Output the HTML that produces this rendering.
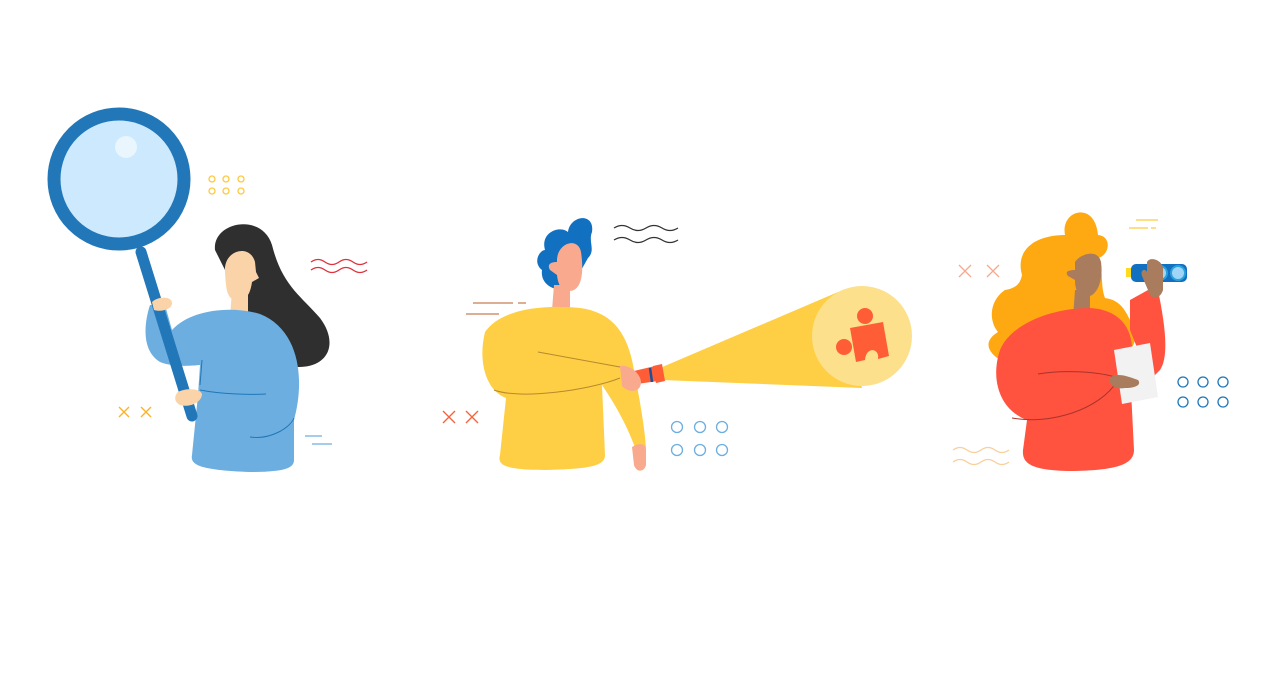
<!DOCTYPE html>
<html><head><meta charset="utf-8"><style>html,body{margin:0;padding:0;background:#fff}svg{display:block}</style></head>
<body>
<svg width="1277" height="687" viewBox="0 0 1277 687" xmlns="http://www.w3.org/2000/svg">
<rect width="1277" height="687" fill="#fff"/>
<!-- Figure 1 -->
<g fill="none" stroke="#fdc93f" stroke-width="1.3">
<circle cx="212" cy="179" r="3"/><circle cx="226" cy="179" r="3"/><circle cx="241" cy="179" r="3"/>
<circle cx="212" cy="191" r="3"/><circle cx="226" cy="191" r="3"/><circle cx="241" cy="191" r="3"/>
</g>
<path d="M311 262 q7 -5 14 0 t14 0 t14 0 t14 0 M311 270 q7 -5 14 0 t14 0 t14 0 t14 0" stroke="#e0313e" stroke-width="1.3" fill="none"/>
<path d="M119 407 l10 10 M129 407 l-10 10 M141 407 l10 10 M151 407 l-10 10" stroke="#fbb32a" stroke-width="1.4"/>
<path d="M305 436 h17 M312 444 h20" stroke="#6daee0" stroke-width="1.3"/>
<path d="M215 250 C212 222 262 212 272 245 C282 285 300 295 320 318 C338 342 330 366 300 367 L250 367 L240 300 Z" fill="#2f2f2f"/>
<path d="M232 290 L248 290 L248 318 L230 318 Z" fill="#fbd3a9"/>
<path d="M225 272 C223 250 250 243 255 262 L256 272 L259 278 L252 282 C250 296 245 302 235 300 C227 298 226 290 225 272 Z" fill="#fbd3a9"/>
<path d="M150 305 C145 320 140 350 160 362 C172 367 190 366 200 365 L198 395 L192 455 C190 465 200 470 250 472 C285 472 294 468 294 460 L294 420 C305 380 300 330 260 314 C230 305 190 310 172 330 L165 305 Z" fill="#6daee0"/>
<path d="M202 360 L200 385 M200 390 C220 394 250 395 266 394 M250 437 C270 440 290 428 294 418" stroke="#2177b8" stroke-width="1" fill="none"/>
<circle cx="119" cy="179" r="65" fill="#cce9fd" stroke="#2177b8" stroke-width="13"/>
<circle cx="126" cy="147" r="11" fill="#eaf6fe"/>
<line x1="141" y1="252" x2="192" y2="416" stroke="#2177b8" stroke-width="11" stroke-linecap="round"/>
<path d="M152 302 C158 296 172 296 172 303 C172 310 160 312 154 310 Z" fill="#fbd3a9"/>
<path d="M178 392 C185 388 200 388 202 394 C202 402 190 408 180 405 C174 402 174 396 178 392 Z" fill="#fbd3a9"/>
<!-- Figure 2 -->
<path d="M614 228 q8 -5 16 0 t16 0 t16 0 t16 0 M614 240 q8 -5 16 0 t16 0 t16 0 t16 0" stroke="#333" stroke-width="1.3" fill="none"/>
<path d="M473 303 h40 M518 303 h8 M466 314 h33" stroke="#c77d55" stroke-width="1.2"/>
<path d="M443 411 l12 12 M455 411 l-12 12 M466 411 l12 12 M478 411 l-12 12" stroke="#f5643c" stroke-width="1.4"/>
<g fill="none" stroke="#6daee0" stroke-width="1.3">
<circle cx="677" cy="427" r="5.5"/><circle cx="700" cy="427" r="5.5"/><circle cx="722" cy="427" r="5.5"/>
<circle cx="677" cy="450" r="5.5"/><circle cx="700" cy="450" r="5.5"/><circle cx="722" cy="450" r="5.5"/>
</g>
<path d="M545 250 C540 232 560 225 568 232 C570 215 595 212 592 232 C588 242 596 250 588 258 L570 290 C555 292 540 285 542 270 C532 262 540 250 545 250 Z" fill="#1170c0"/>
<path d="M554 285 L570 285 L570 310 L552 310 Z" fill="#f9a98e"/>
<path d="M557 262 C556 243 578 236 581 252 C584 272 582 290 570 291 C562 292 558 285 557 275 L550 270 C546 263 553 262 557 262 Z" fill="#f9a98e"/>
<path d="M485 332 C500 310 540 304 580 308 C610 312 625 330 632 360 C640 400 645 430 646 448 L636 450 C625 420 612 400 602 385 L605 455 C605 466 590 469 545 470 C505 470 497 465 500 455 L506 398 C485 390 478 360 485 332 Z" fill="#fecf45"/>
<path d="M538 352 L620 367 M494 390 C520 400 590 390 620 378" stroke="#b48a2e" stroke-width="1" fill="none"/>
<path d="M632 447 C640 442 646 444 646 450 L646 465 C644 473 636 472 634 465 Z" fill="#f9a98e"/>
<path d="M660 368 L838 292 L862 388 L662 380 Z" fill="#fecf45"/>
<circle cx="862" cy="336" r="50" fill="#fde08c"/>
<path d="M634 371 L655 366 L658 381 L637 384 Z" fill="#ff5d36"/>
<path d="M653 366 L662 364 L665 381 L656 383 Z" fill="#ff5d36"/>
<path d="M650 368 L652 382" stroke="#1a4f9c" stroke-width="2.5"/>
<path d="M620 366 C628 364 640 372 641 382 C641 392 630 394 622 386 Z" fill="#f9a98e"/>
<circle cx="865" cy="316" r="8" fill="#ff5d36"/>
<circle cx="844" cy="347" r="8" fill="#ff5d36"/>
<path d="M850 328 L883 322 L889 356 L878 359 C880 348 866 346 865 360 L856 362 Z" fill="#ff5d36"/>
<!-- Figure 3 -->
<path d="M1136 220 h22 M1129 228 h19 M1151 228 h5" stroke="#fdc93f" stroke-width="1.2"/>
<path d="M959 265 l12 12 M971 265 l-12 12 M987 265 l12 12 M999 265 l-12 12" stroke="#f7a98f" stroke-width="1.3"/>
<path d="M953 450 q7 -5 14 0 t14 0 t14 0 t14 0 M953 462 q7 -5 14 0 t14 0 t14 0 t14 0" stroke="#f9cf9c" stroke-width="1.3" fill="none"/>
<g fill="none" stroke="#2177b8" stroke-width="1.3">
<circle cx="1183" cy="382" r="5"/><circle cx="1203" cy="382" r="5"/><circle cx="1223" cy="382" r="5"/>
<circle cx="1183" cy="402" r="5"/><circle cx="1203" cy="402" r="5"/><circle cx="1223" cy="402" r="5"/>
</g>
<path d="M1065 235 C1060 210 1095 200 1098 235 C1112 236 1110 255 1098 258 C1104 270 1100 285 1105 298 C1120 300 1125 310 1130 320 C1140 330 1135 345 1130 350 L1000 360 C985 350 985 340 998 332 C988 320 990 300 1005 290 C1015 288 1020 285 1022 275 C1015 250 1035 235 1065 235 Z" fill="#fea912"/>
<path d="M1075 290 L1090 290 L1090 318 L1073 318 Z" fill="#a97c5e"/>
<path d="M1075 265 L1075 262 C1080 254 1098 248 1101 262 C1103 275 1100 292 1090 296 C1078 298 1075 290 1075 280 L1068 276 C1064 271 1070 270 1075 270 Z" fill="#a97c5e"/>
<path d="M1130 300 L1148 290 L1158 290 C1164 320 1170 355 1160 370 L1150 380 L1130 330 Z" fill="#ff5340"/>
<path d="M1000 350 C1010 325 1050 308 1090 308 C1125 310 1138 335 1130 370 L1134 450 C1134 465 1115 470 1075 471 C1030 471 1022 463 1023 450 L1027 420 C1000 410 990 380 1000 350 Z" fill="#ff5340"/>
<path d="M1038 374 C1060 370 1095 371 1115 377 M1012 418 C1050 425 1100 410 1118 380" stroke="#a8342a" stroke-width="1" fill="none"/>
<path d="M1114 350 L1150 343 L1158 397 L1122 404 Z" fill="#f2f2f2"/>
<path d="M1110 378 C1115 372 1128 376 1138 380 C1142 385 1135 388 1125 388 C1115 390 1108 384 1110 378 Z" fill="#a97c5e"/>
<rect x="1126" y="268" width="8" height="9" fill="#fedb1f"/>
<rect x="1131" y="264" width="56" height="18" rx="5" fill="#1170c0"/>
<circle cx="1160" cy="273" r="8" fill="#2aa0dd"/><circle cx="1160" cy="273" r="6" fill="#9fd6f7"/>
<circle cx="1178" cy="273" r="8" fill="#2aa0dd"/><circle cx="1178" cy="273" r="6" fill="#9fd6f7"/>
<path d="M1147 262 C1150 256 1162 260 1163 268 L1163 290 C1160 300 1150 300 1148 290 L1142 276 C1140 270 1145 268 1147 272 Z" fill="#a97c5e"/>
</svg>
</body></html>
